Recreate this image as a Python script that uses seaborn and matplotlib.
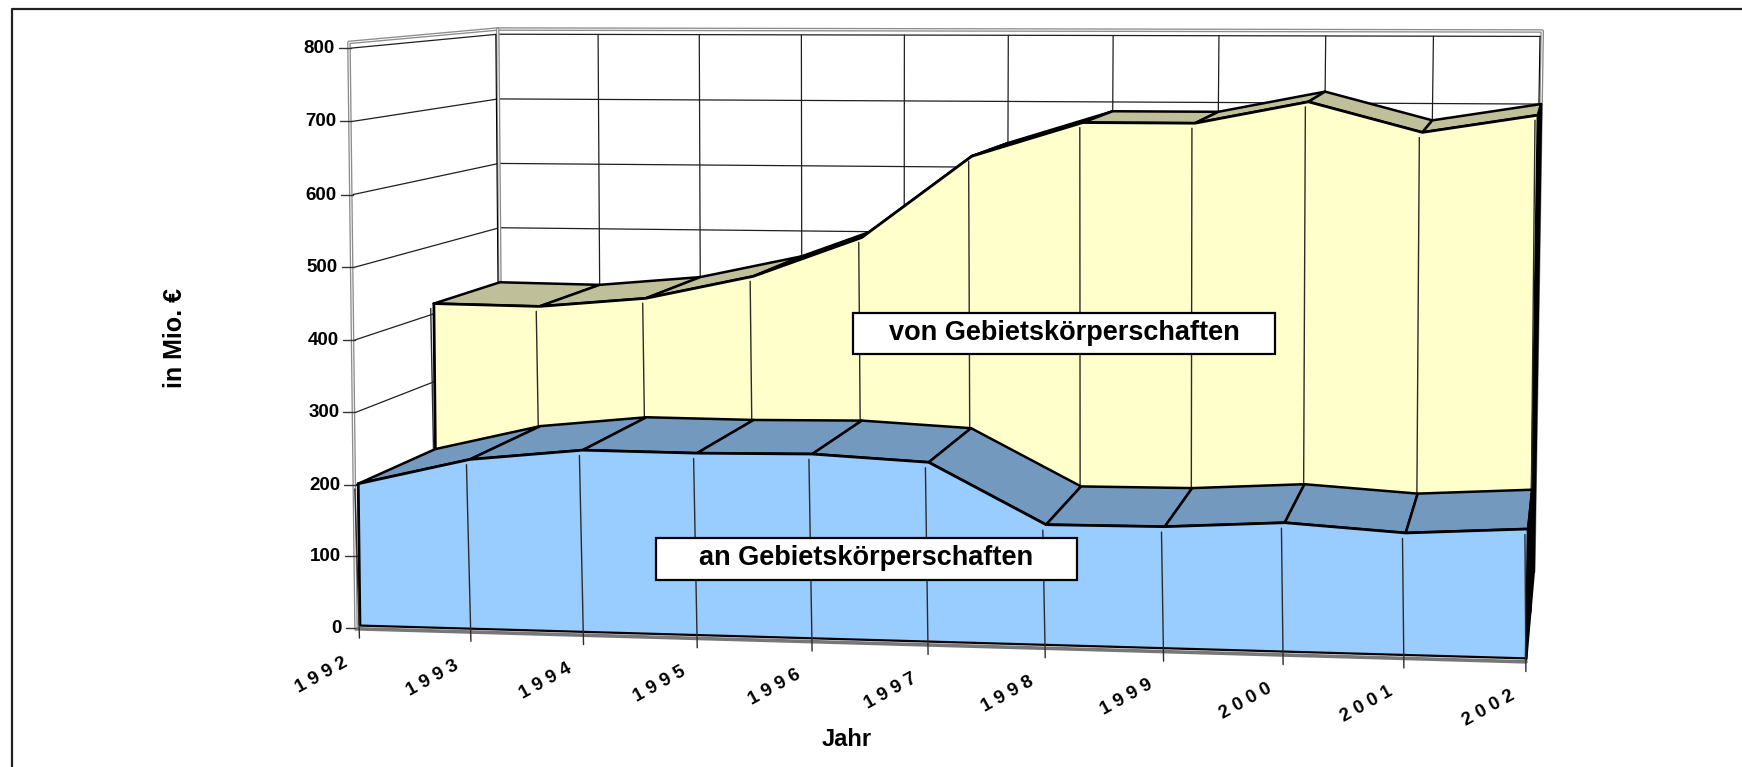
import numpy as np
import pandas as pd
import seaborn as sns
import matplotlib.pyplot as plt
from matplotlib.patches import Polygon, Rectangle

years = [1992, 1993, 1994, 1995, 1996, 1997, 1998, 1999, 2000, 2001, 2002]
an_values = [200, 237, 253, 252, 254, 246, 165, 166, 175, 165, 174]
von_values = [415, 413, 427, 461, 519, 637, 686, 686, 717, 675, 700]
value_ticks = [0, 100, 200, 300, 400, 500, 600, 700, 800]

WIDTH, HEIGHT = 1742, 767
GRID = "#1f1f1f"
FRAME = "#8c8c8c"
MID_DEPTH = 0.515
FRONT_DEPTH = 0.012


def fit_camera() -> np.ndarray:
    """Perspective camera of the 3D box: (year index, value, depth) to pixels, from the box corners."""
    world = np.array([(0, 0, 0), (10, 0, 0), (0, 800, 0), (10, 800, 0),
                      (0, 0, 1), (10, 0, 1), (0, 800, 1), (10, 800, 1), (5, 0, 0), (5, 800, 1)], dtype=float)
    pixels = np.array([(357, 627), (1525, 659), (350, 49), (1539, 55),
                       (503, 549), (1535, 573), (500, 33), (1540, 35), (927, 643), (1006, 34)], dtype=float)
    rows, rhs = [], []
    for (u, v, w), (x, y) in zip(world, pixels):
        rows.append([u, v, w, 1, 0, 0, 0, 0, -x * u, -x * v, -x * w])
        rows.append([0, 0, 0, 0, u, v, w, 1, -y * u, -y * v, -y * w])
        rhs += [x, y]
    scale = np.array([1, 100, 1, 1, 1, 100, 1, 1, 1, 100, 1], dtype=float)
    solved = np.linalg.lstsq(np.array(rows) * scale, np.array(rhs), rcond=None)[0] * scale
    return np.append(solved, 1).reshape(3, 4)


camera = fit_camera()


def project(u, v, w):
    """Pixel position of points of the 3D box."""
    u, v, w = np.broadcast_arrays(np.asarray(u, float), np.asarray(v, float), np.asarray(w, float))
    hom = camera @ np.stack([u, v, w, np.ones_like(u)])
    return hom[0] / hom[2], hom[1] / hom[2]


def line3d(ax, u, v, w, color=GRID, lw=0.9, zorder=2):
    x, y = project(u, v, w)
    ax.plot(x, y, color=color, lw=lw, zorder=zorder, solid_capstyle="round")


def quad(ax, u, v, w, face, zorder, lw=1.8):
    x, y = project(u, v, w)
    ax.add_patch(Polygon(np.column_stack([x, y]), closed=True, facecolor=face, edgecolor="black",
                         lw=lw, joinstyle="round", zorder=zorder))


def draw_walls(ax):
    last = len(years) - 1
    # grid on left wall and back wall
    for value in value_ticks[1:]:
        line3d(ax, [0, 0, last], [value, value, value], [0, 1, 1])
    for i in range(1, last):
        line3d(ax, [i, i], [0, 800], [1, 1])
    # grey double frame round the walls
    frame_u = [0, 0, 0, last, last]
    frame_v = [0, 808, 808, 808, 0]
    frame_w = [-0.012, -0.012, 1, 1, 1]
    line3d(ax, frame_u, frame_v, frame_w, color=FRAME, lw=2.6)
    line3d(ax, frame_u, frame_v, frame_w, color="white", lw=0.7)
    line3d(ax, [0, 0], [0, 808], [1, 1], color=FRAME, lw=2.6)
    line3d(ax, [0, 0], [0, 808], [1, 1], color="white", lw=0.7)
    line3d(ax, [0, 0], [0, 800], [0.985, 0.985], color="black", lw=0.8)
    line3d(ax, [last - 0.02, last - 0.02], [0, 800], [1, 1], color="black", lw=0.8)


def draw_series(ax, values, near, far, face, top, zorder):
    last = len(years) - 1
    u = np.arange(len(years))
    # top ribbon, hidden parts get covered by the front face
    for i in range(last):
        quad(ax, [i, i + 1, i + 1, i], [values[i], values[i + 1], values[i + 1], values[i]],
             [near, near, far, far], top, zorder)
    # right hand side seen almost edge on
    quad(ax, [last, last, last, last], [0, values[-1], values[-1], 0], [near, near, far, far],
         "black", zorder)
    xs, ys = project(np.r_[u, last, 0], np.r_[values, 3, 3], near)
    ax.add_patch(Polygon(np.column_stack([xs, ys]), closed=True, facecolor=face, edgecolor="none",
                         zorder=zorder + 0.1))
    # the outline of the series
    px, py = project(u, values, near)
    edge = pd.DataFrame({"px": px, "py": py})
    sns.lineplot(data=edge, x="px", y="py", sort=False, estimator=None, color="black", lw=2,
                 ax=ax, zorder=zorder + 0.2)
    line3d(ax, [0, 0], [values[0], 3], [near, near], color="black", lw=2, zorder=zorder + 0.2)
    line3d(ax, [last, last], [values[-1], 3], [near, near], color="black", lw=2, zorder=zorder + 0.2)


def draw_year_lines(ax, values, near, bottom, zorder):
    for i, value in enumerate(values):
        line3d(ax, [i - 0.025, i], [value - 7, bottom], [near - 0.004, near - 0.004], color="#2b2b2b",
               lw=1.0, zorder=zorder)


def draw_labels(ax):
    font = dict(family="Liberation Sans", weight="bold", color="black")
    for value in value_ticks:
        x0, y0 = project(0, value, 0)
        ax.plot([x0 - 12, x0], [y0, y0], color="#333333", lw=1.0, zorder=2)
        ax.text(x0 - 16, y0 + 0.5, str(value), ha="right", va="center", fontsize=13.5, **font)
    for i, year in enumerate(years):
        x0, y0 = project(i, 0, 0)
        ax.text(x0 - 12, y0 + 33, " ".join(str(year)), ha="right", va="center", rotation=29,
                rotation_mode="anchor", fontsize=13.4, **font)
    ax.text(175, 338, "in Mio. €", rotation=90, ha="center", va="center", fontsize=18, **font)
    ax.text(847, 740, "Jahr", ha="center", va="center", fontsize=17, **font)

    for text, left, top, right, bottom in [("von Gebietskörperschaften", 853, 313, 1275, 354),
                                           ("an Gebietskörperschaften", 656, 538, 1077, 580)]:
        ax.add_patch(Rectangle((left, top), right - left, bottom - top, facecolor="white",
                               edgecolor="black", lw=1.6, zorder=8))
        ax.text((left + right) / 2, (top + bottom) / 2 - 1, text, ha="center", va="center",
                fontsize=19.5, zorder=9, **font)


def main():
    sns.set_theme(style="white")
    fig = plt.figure(figsize=(WIDTH / 100, HEIGHT / 100), dpi=100)
    ax = fig.add_axes([0, 0, 1, 1])
    ax.set_xlim(0, WIDTH)
    ax.set_ylim(HEIGHT, 0)
    ax.axis("off")

    # outer border, only top and left are inside the picture
    ax.plot([WIDTH, 12, 12], [9, 9, HEIGHT], color="#222222", lw=1.6, zorder=1)

    draw_walls(ax)
    draw_series(ax, von_values, MID_DEPTH, 1.0, "#FFFFCC", "#BFBF99", 3)
    draw_year_lines(ax, von_values, MID_DEPTH, 0, 3.5)
    draw_series(ax, an_values, FRONT_DEPTH, MID_DEPTH, "#99CCFF", "#7399BF", 5)
    draw_year_lines(ax, an_values, FRONT_DEPTH, -15, 5.5)

    # floor edge under the front face
    last = len(years) - 1
    line3d(ax, [0, last], [-1, -1], [0, 0], color="#777777", lw=2.6, zorder=5.3)
    line3d(ax, [0, last], [2, 2], [FRONT_DEPTH, FRONT_DEPTH], color="black", lw=1.6, zorder=5.4)

    draw_labels(ax)
    fig.savefig("out.png", dpi=100, facecolor="white")


if __name__ == "__main__":
    main()
